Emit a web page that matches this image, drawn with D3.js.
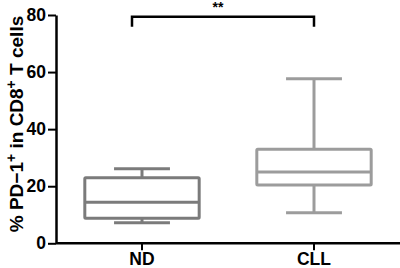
<!DOCTYPE html>
<html><head><meta charset="utf-8">
<script src="https://cdn.jsdelivr.net/npm/d3@7"></script>
<style>body{margin:0;background:#fff}svg{display:block}text{font-family:"Liberation Sans",Arial,sans-serif}</style>
</head><body><svg id="c" width="400" height="268"></svg>
<script>
const categories = ["ND", "CLL"];
const whiskerLow = [7.2, 10.7];
const q1 = [8.8, 20.4];
const median = [14.4, 25.0];
const q3 = [23.0, 33.0];
const whiskerHigh = [26.1, 57.7];
const colors = ["#7b7b7b", "#9c9c9c"];
const yTicks = [0, 20, 40, 60, 80];
const sigLabel = "**";

const svg = d3.select("#c");
const x = d3.scaleBand().domain(categories).range([56, 400]).padding(0);
const y = d3.scaleLinear().domain([0, 80]).range([243.3, 15]);

const boxW = x.bandwidth() * 0.665, capW = x.bandwidth() * 0.325;

// axes
const yAx = svg.append("g").attr("transform", "translate(56,0)")
  .call(d3.axisLeft(y).tickValues(yTicks).tickSize(8).tickSizeOuter(0).tickPadding(2));
const xAx = svg.append("g").attr("transform", "translate(0,243.3)")
  .call(d3.axisBottom(x).tickSize(7).tickSizeOuter(0).tickPadding(2));
[yAx, xAx].forEach(a => {
  a.attr("font-size", 17).attr("font-family", null);
  a.select(".domain").attr("stroke", "#000").attr("stroke-width", 2.5);
  a.selectAll(".tick line").attr("stroke", "#000").attr("stroke-width", 2);
  a.selectAll("text").style("font-size", "17.5px").style("font-weight", "700").attr("fill", "#000");
});
xAx.select(".domain").attr("d", "M56,0H400");

// boxes
const g = svg.append("g").selectAll("g").data(categories).join("g");
g.each(function(c, i) {
  const s = d3.select(this), cx = x(c) + x.bandwidth() / 2, col = colors[i];
  const line = (x1, y1, x2, y2) => s.append("line").attr("x1", x1).attr("y1", y1).attr("x2", x2).attr("y2", y2)
      .attr("stroke", col).attr("stroke-width", 3);
  line(cx, y(whiskerHigh[i]), cx, y(q3[i]));
  line(cx, y(whiskerLow[i]), cx, y(q1[i]));
  line(cx - capW / 2, y(whiskerHigh[i]), cx + capW / 2, y(whiskerHigh[i]));
  line(cx - capW / 2, y(whiskerLow[i]), cx + capW / 2, y(whiskerLow[i]));
  s.append("rect").attr("x", cx - boxW / 2).attr("y", y(q3[i])).attr("width", boxW)
    .attr("height", y(q1[i]) - y(q3[i])).attr("fill", "none").attr("stroke", col).attr("stroke-width", 3)
    .attr("rx", 1);
  line(cx - boxW / 2, y(median[i]), cx + boxW / 2, y(median[i]));
});

// significance bracket
const bx1 = x(categories[0]) + x.bandwidth() / 2 - 10, bx2 = x(categories[1]) + x.bandwidth() / 2;
const by = y(80) + 1.7;
svg.append("path").attr("d", `M${bx1},${by + 10}V${by}H${bx2}V${by + 10}`)
  .attr("fill", "none").attr("stroke", "#000").attr("stroke-width", 2.5);
svg.append("text").attr("x", (bx1 + bx2) / 2 - 5).attr("y", 12).attr("text-anchor", "middle")
  .style("font-size", "14px").style("font-weight", "700").text(sigLabel);

// y label
const yl = svg.append("text").attr("transform", "translate(23,124) rotate(-90)").attr("text-anchor", "middle")
  .style("font-size", "19px").style("font-weight", "700");
yl.append("tspan").text("% PD\u22121");
yl.append("tspan").style("font-size", "14px").attr("dy", -7).text("+");
yl.append("tspan").attr("dy", 7).text(" in CD8");
yl.append("tspan").style("font-size", "14px").attr("dy", -7).text("+");
yl.append("tspan").attr("dy", 7).text(" T cells");
</script></body></html>
